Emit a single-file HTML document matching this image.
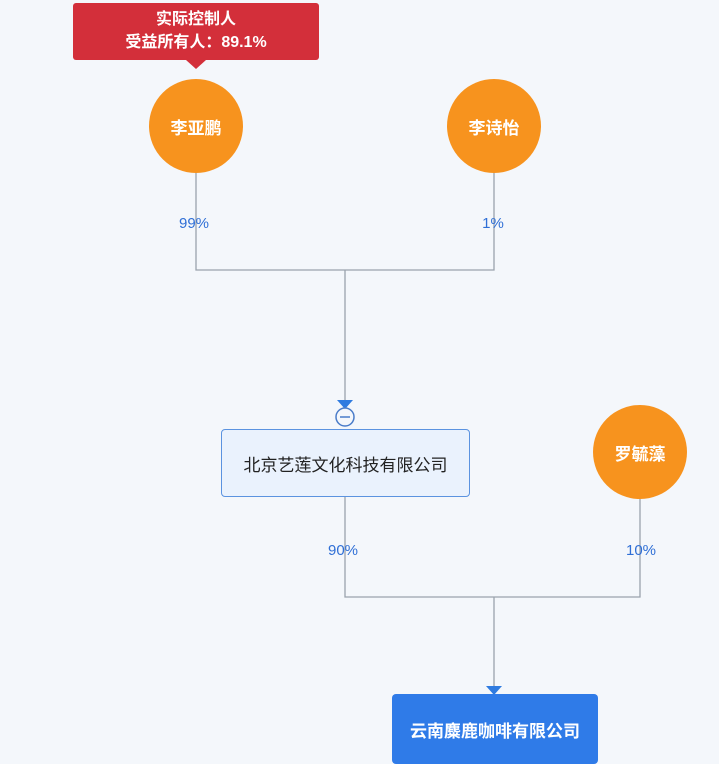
<!DOCTYPE html>
<html><head><meta charset="utf-8"><style>
body{margin:0;width:719px;height:761px;overflow:hidden;background:#f4f7fb;font-family:"Liberation Sans","Noto Sans CJK SC",sans-serif;position:relative}
.a{position:absolute}
.c{position:absolute;border-radius:50%;background:#f7931e;color:#fff;font-size:17px;font-weight:bold;display:flex;align-items:center;justify-content:center}
.p{position:absolute;color:#2f6fd6;font-size:15px;transform:translateX(-50%)}
</style></head><body>
<svg class="a" style="left:0;top:0" width="719" height="761">
<g stroke="#9aa3ad" stroke-width="1.3" fill="none">
<path d="M196 173V270H494V173M345 270V400"/>
<path d="M345 497V597H640V499M494 597V686"/>
</g>
<polygon points="337,400 353,400 345,409" fill="#2f7be0"/>
<circle cx="345" cy="417" r="9" fill="#f4f7fb" stroke="#4a7cc9" stroke-width="1.5"/>
<line x1="340" y1="417" x2="350" y2="417" stroke="#4a7cc9" stroke-width="1.5"/>
<polygon points="486,686 502,686 494,695" fill="#2f7be0"/>
<polygon points="186,60 206,60 196,69" fill="#d32f3a"/>
</svg>
<div class="a" style="left:73px;top:3px;width:246px;height:57px;background:#d32f3a;border-radius:3px;color:#fff;font-size:16px;font-weight:bold;text-align:center;line-height:23px;padding-top:5px;box-sizing:border-box">实际控制人<br>受益所有人：89.1%</div>
<div class="c" style="left:149px;top:79px;width:94px;height:94px">李亚鹏</div>
<div class="c" style="left:447px;top:79px;width:94px;height:94px">李诗怡</div>
<div class="c" style="left:593px;top:405px;width:94px;height:94px">罗毓藻</div>
<div class="p" style="left:194px;top:215px">99%</div>
<div class="p" style="left:493px;top:215px">1%</div>
<div class="p" style="left:343px;top:542px">90%</div>
<div class="p" style="left:641px;top:542px">10%</div>
<div class="a" style="left:221px;top:429px;width:249px;height:68px;box-sizing:border-box;background:#eaf2fd;border:1.5px solid #5b93e0;border-radius:4px;display:flex;align-items:center;justify-content:center;font-size:17px;color:#222">北京艺莲文化科技有限公司</div>
<div class="a" style="left:392px;top:694px;width:206px;height:70px;box-sizing:border-box;background:#2f7be8;border-radius:4px;display:flex;align-items:center;justify-content:center;font-size:17px;font-weight:bold;color:#fff">云南麋鹿咖啡有限公司</div>
</body></html>
